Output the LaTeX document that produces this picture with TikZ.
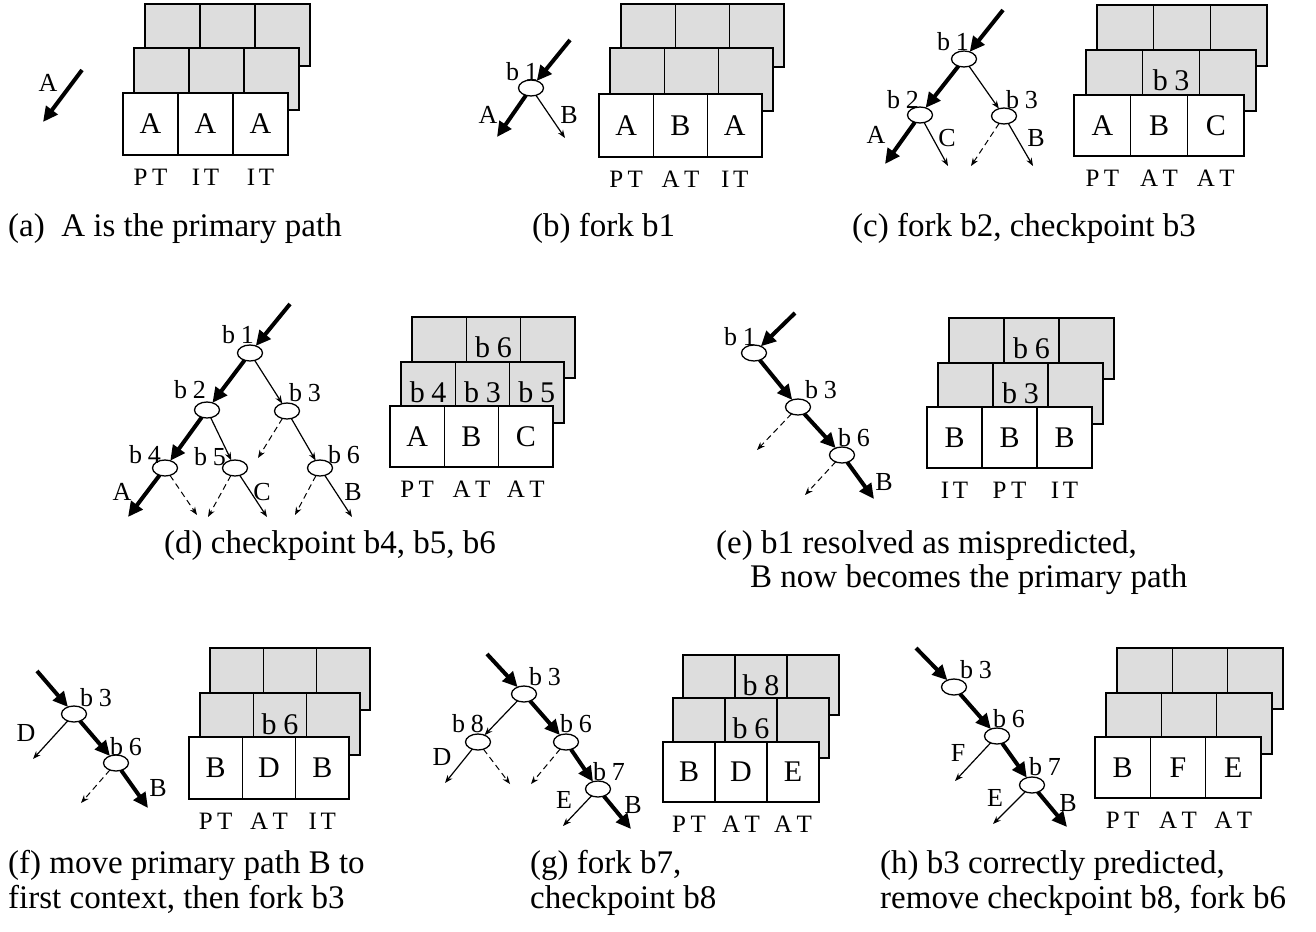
\documentclass[tikz,border=0pt]{standalone}
\usepackage{fontspec}
\setmainfont{Liberation Serif}
\usetikzlibrary{shapes.geometric,arrows.meta}
\definecolor{ctxgray}{RGB}{221,221,221}

\newcommand\capfont{\fontsize{33}{39}\selectfont}
\newcommand\cellfont{\fontsize{30}{36}\selectfont}
\newcommand\tagfont{\fontsize{25}{30}\selectfont}
\newcommand\brfont{\fontsize{26}{30}\selectfont}
\newcommand\bn[1]{b\kern0.22em#1}
\newcommand\PT{P\kern0.18em T}
\newcommand\AT{A\kern0.18em T}
\newcommand\IT{I\kern0.14em T}

\tikzset{
  ctxcell/.style={draw, line width=1.4pt, outer sep=0pt, inner sep=0pt, font=\cellfont},
  ctxtag/.style={font=\tagfont, inner sep=0pt},
  brlbl/.style={font=\brfont, inner sep=0pt},
  captext/.style={font=\capfont, anchor=base west, inner sep=0pt},
  brnode/.style={ellipse, draw, line width=1.3pt, fill=white, minimum width=25pt,
             minimum height=16pt, inner sep=0pt, outer sep=0pt},
  mainpath/.style={line width=4pt, -{Triangle[length=15pt,width=14pt]}},
  altpath/.style={line width=1.2pt, -{Stealth[length=8pt,width=6pt]}},
  specpath/.style={line width=1pt, dash pattern=on 6pt off 4pt, -{Stealth[length=8pt,width=6pt]}},
}

% one row of three thread contexts: name, x, y (top left), cell width, height, fill, labels
\newcommand\ctxrow[9]{%
  \node[ctxcell,fill=#6,minimum width=#4pt,minimum height=#5pt,anchor=north west] (#1a) at (#2,#3) {#7};
  \node[ctxcell,fill=#6,minimum width=#4pt,minimum height=#5pt,anchor=west] (#1b) at (#1a.east) {#8};
  \node[ctxcell,fill=#6,minimum width=#4pt,minimum height=#5pt,anchor=west] (#1c) at (#1b.east) {#9};}
% context kind tags under the front row
\newcommand\ctxtags[4]{%
  \node[ctxtag] (#1ta) at ([yshift=-22pt]#1a.south) {#2};
  \node[ctxtag] (#1tb) at ([yshift=-22pt]#1b.south) {#3};
  \node[ctxtag] (#1tc) at ([yshift=-22pt]#1c.south) {#4};}
\newcommand\brlabel[4]{\node[brlbl] (#1) at (#2,#3) {#4};}

\begin{document}
\begin{tikzpicture}[x=1pt,y=-1pt]
\useasboundingbox (0,0) rectangle (1316,931);

% ---------------- (a) ----------------
\ctxrow{ak}{145}{4}{55}{62}{ctxgray}{}{}{}
\ctxrow{am}{134}{48}{55}{62}{ctxgray}{}{}{}
\ctxrow{af}{123}{93}{55}{62}{white}{A}{A}{A}
\ctxtags{af}{\PT}{\IT}{\IT}
\coordinate (a-in) at (82,70);
\coordinate (a-out) at (43,122);
\draw[mainpath] (a-in) -- (a-out);
\brlabel{a-lA}{48}{83}{A}
\node[captext] (cap-a) at (8,236) {(a)\ \ A is the primary path};

% ---------------- (b) ----------------
\ctxrow{bk}{621}{4}{54.3}{63}{ctxgray}{}{}{}
\ctxrow{bm}{610}{48}{54.3}{63}{ctxgray}{}{}{}
\ctxrow{bf}{599}{94}{54.3}{63}{white}{A}{B}{A}
\ctxtags{bf}{\PT}{\AT}{\IT}
\node[brnode] (b-b1) at (531,88) {};
\coordinate (b-in) at (570,40);
\coordinate (b-A) at (497,137);
\coordinate (b-B) at (565,138);
\draw[mainpath] (b-in) -- (b-b1);
\draw[mainpath] (b-b1) -- (b-A);
\draw[altpath] (b-b1) -- (b-B);
\brlabel{b-l1}{522}{72}{\bn1}
\brlabel{b-lA}{488}{115}{A}
\brlabel{b-lB}{569}{115}{B}
\node[captext] (cap-b) at (532,236) {(b) fork b1};

% ---------------- (c) ----------------
\ctxrow{ck}{1097}{5}{56.7}{61}{ctxgray}{}{}{}
\ctxrow{cm}{1086}{50}{56.7}{61}{ctxgray}{}{\bn3}{}
\ctxrow{cf}{1074}{95}{56.7}{61}{white}{A}{B}{C}
\ctxtags{cf}{\PT}{\AT}{\AT}
\node[brnode] (c-b1) at (964,59) {};
\node[brnode] (c-b2) at (920,115) {};
\node[brnode] (c-b3) at (1004,116) {};
\coordinate (c-in) at (1003,10);
\coordinate (c-A) at (885,164);
\coordinate (c-C) at (948,166);
\coordinate (c-x) at (971,166);
\coordinate (c-B) at (1033,166);
\draw[mainpath] (c-in) -- (c-b1);
\draw[mainpath] (c-b1) -- (c-b2);
\draw[altpath] (c-b1) -- (c-b3);
\draw[mainpath] (c-b2) -- (c-A);
\draw[altpath] (c-b2) -- (c-C);
\draw[specpath] (c-b3) -- (c-x);
\draw[altpath] (c-b3) -- (c-B);
\brlabel{c-l1}{953}{42}{\bn1}
\brlabel{c-l2}{903}{100}{\bn2}
\brlabel{c-l3}{1022}{100}{\bn3}
\brlabel{c-lA}{876}{135}{A}
\brlabel{c-lC}{947}{138}{C}
\brlabel{c-lB}{1036}{138}{B}
\node[captext] (cap-c) at (852,236) {(c) fork b2, checkpoint b3};

% ---------------- (d) ----------------
\ctxrow{dk}{412}{317}{54.3}{61}{ctxgray}{}{\bn6}{}
\ctxrow{dm}{401}{362}{54.3}{61}{ctxgray}{\bn4}{\bn3}{\bn5}
\ctxrow{df}{390}{406}{54.3}{61}{white}{A}{B}{C}
\ctxtags{df}{\PT}{\AT}{\AT}
\node[brnode] (d-b1) at (250,353) {};
\node[brnode] (d-b2) at (207,410) {};
\node[brnode] (d-b3) at (287,411) {};
\node[brnode] (d-b4) at (165,468) {};
\node[brnode] (d-b5) at (235,468) {};
\node[brnode] (d-b6) at (320,468) {};
\coordinate (d-in) at (290,304);
\coordinate (d-A) at (128,517);
\coordinate (d-x4) at (197,515);
\coordinate (d-x5) at (208,517);
\coordinate (d-C) at (267,517);
\coordinate (d-x6) at (295,515);
\coordinate (d-B) at (352,517);
\coordinate (d-x3) at (258,458);
\draw[mainpath] (d-in) -- (d-b1);
\draw[mainpath] (d-b1) -- (d-b2);
\draw[altpath] (d-b1) -- (d-b3);
\draw[mainpath] (d-b2) -- (d-b4);
\draw[altpath] (d-b2) -- (d-b5);
\draw[specpath] (d-b3) -- (d-x3);
\draw[altpath] (d-b3) -- (d-b6);
\draw[mainpath] (d-b4) -- (d-A);
\draw[specpath] (d-b4) -- (d-x4);
\draw[specpath] (d-b5) -- (d-x5);
\draw[altpath] (d-b5) -- (d-C);
\draw[specpath] (d-b6) -- (d-x6);
\draw[altpath] (d-b6) -- (d-B);
\brlabel{d-l1}{238}{335}{\bn1}
\brlabel{d-l2}{190}{390}{\bn2}
\brlabel{d-l3}{305}{393}{\bn3}
\brlabel{d-l4}{145}{455}{\bn4}
\brlabel{d-l5}{210}{457}{\bn5}
\brlabel{d-l6}{344}{455}{\bn6}
\brlabel{d-lA}{122}{492}{A}
\brlabel{d-lC}{262}{492}{C}
\brlabel{d-lB}{353}{492}{B}
\node[captext] (cap-d) at (164,553) {(d) checkpoint b4, b5, b6};

% ---------------- (e) ----------------
\ctxrow{ek}{949}{318}{55}{61}{ctxgray}{}{\bn6}{}
\ctxrow{em}{938}{363}{55}{61}{ctxgray}{}{\bn3}{}
\ctxrow{ef}{927}{407}{55}{61}{white}{B}{B}{B}
\ctxtags{ef}{\IT}{\PT}{\IT}
\node[brnode] (e-b1) at (754,353) {};
\node[brnode] (e-b3) at (798,407) {};
\node[brnode] (e-b6) at (842,455) {};
\coordinate (e-in) at (795,313);
\coordinate (e-B) at (874,499);
\coordinate (e-x3) at (757,450);
\coordinate (e-x6) at (805,495);
\draw[mainpath] (e-in) -- (e-b1);
\draw[mainpath] (e-b1) -- (e-b3);
\draw[mainpath] (e-b3) -- (e-b6);
\draw[mainpath] (e-b6) -- (e-B);
\draw[specpath] (e-b3) -- (e-x3);
\draw[specpath] (e-b6) -- (e-x6);
\brlabel{e-l1}{740}{337}{\bn1}
\brlabel{e-l3}{821}{390}{\bn3}
\brlabel{e-l6}{854}{438}{\bn6}
\brlabel{e-lB}{884}{482}{B}
\node[captext] (cap-e1) at (716,553) {(e) b1 resolved as mispredicted,};
\node[captext] (cap-e2) at (750,587) {B now becomes the primary path};

% ---------------- (f) ----------------
\ctxrow{fk}{210}{648}{53.3}{62}{ctxgray}{}{}{}
\ctxrow{fm}{200}{693}{53.3}{62}{ctxgray}{}{\bn6}{}
\ctxrow{ff}{189}{737}{53.3}{62}{white}{B}{D}{B}
\ctxtags{ff}{\PT}{\AT}{\IT}
\node[brnode] (f-b3) at (74,714) {};
\node[brnode] (f-b6) at (116,763) {};
\coordinate (f-in) at (37,671);
\coordinate (f-B) at (148,808);
\coordinate (f-D) at (33,759);
\coordinate (f-x6) at (81,803);
\draw[mainpath] (f-in) -- (f-b3);
\draw[mainpath] (f-b3) -- (f-b6);
\draw[mainpath] (f-b6) -- (f-B);
\draw[altpath] (f-b3) -- (f-D);
\draw[specpath] (f-b6) -- (f-x6);
\brlabel{f-l3}{96}{698}{\bn3}
\brlabel{f-l6}{126}{747}{\bn6}
\brlabel{f-lD}{26}{733}{D}
\brlabel{f-lB}{158}{788}{B}
\node[captext] (cap-f1) at (8,873) {(f) move primary path B to};
\node[captext] (cap-f2) at (8,908) {first context, then fork b3};

% ---------------- (g) ----------------
\ctxrow{gk}{683}{655}{52}{60}{ctxgray}{}{\bn8}{}
\ctxrow{gm}{673}{698}{52}{60}{ctxgray}{}{\bn6}{}
\ctxrow{gf}{663}{742}{52}{60}{white}{B}{D}{E}
\ctxtags{gf}{\PT}{\AT}{\AT}
\node[brnode] (g-b3) at (524,694) {};
\node[brnode] (g-b8) at (478,742) {};
\node[brnode] (g-b6) at (566,742) {};
\node[brnode] (g-b7) at (598,789) {};
\coordinate (g-in) at (487,654);
\coordinate (g-B) at (631,829);
\coordinate (g-E) at (563,826);
\coordinate (g-D) at (445,783);
\coordinate (g-x8) at (510,784);
\coordinate (g-x6) at (531,784);
\draw[mainpath] (g-in) -- (g-b3);
\draw[altpath] (g-b3) -- (g-b8);
\draw[mainpath] (g-b3) -- (g-b6);
\draw[mainpath] (g-b6) -- (g-b7);
\draw[mainpath] (g-b7) -- (g-B);
\draw[altpath] (g-b7) -- (g-E);
\draw[altpath] (g-b8) -- (g-D);
\draw[specpath] (g-b8) -- (g-x8);
\draw[specpath] (g-b6) -- (g-x6);
\brlabel{g-l3}{545}{677}{\bn3}
\brlabel{g-l8}{468}{724}{\bn8}
\brlabel{g-l6}{576}{724}{\bn6}
\brlabel{g-l7}{609}{772}{\bn7}
\brlabel{g-lD}{442}{757}{D}
\brlabel{g-lE}{564}{800}{E}
\brlabel{g-lB}{633}{805}{B}
\node[captext] (cap-g1) at (530,873) {(g) fork b7,};
\node[captext] (cap-g2) at (530,908) {checkpoint b8};

% ---------------- (h) ----------------
\ctxrow{hk}{1117}{648}{55.3}{61}{ctxgray}{}{}{}
\ctxrow{hm}{1106}{693}{55.3}{61}{ctxgray}{}{}{}
\ctxrow{hf}{1095}{737}{55.3}{61}{white}{B}{F}{E}
\ctxtags{hf}{\PT}{\AT}{\AT}
\node[brnode] (h-b3) at (954,687) {};
\node[brnode] (h-b6) at (997,736) {};
\node[brnode] (h-b7) at (1032,785) {};
\coordinate (h-in) at (916,648);
\coordinate (h-B) at (1067,827);
\coordinate (h-F) at (955,781);
\coordinate (h-E) at (993,824);
\draw[mainpath] (h-in) -- (h-b3);
\draw[mainpath] (h-b3) -- (h-b6);
\draw[mainpath] (h-b6) -- (h-b7);
\draw[mainpath] (h-b7) -- (h-B);
\draw[altpath] (h-b6) -- (h-F);
\draw[altpath] (h-b7) -- (h-E);
\brlabel{h-l3}{976}{670}{\bn3}
\brlabel{h-l6}{1009}{719}{\bn6}
\brlabel{h-l7}{1045}{767}{\bn7}
\brlabel{h-lF}{958}{753}{F}
\brlabel{h-lE}{995}{798}{E}
\brlabel{h-lB}{1068}{803}{B}
\node[captext] (cap-h1) at (880,873) {(h) b3 correctly predicted,};
\node[captext] (cap-h2) at (880,908) {remove checkpoint b8, fork b6};
\end{tikzpicture}
\end{document}
